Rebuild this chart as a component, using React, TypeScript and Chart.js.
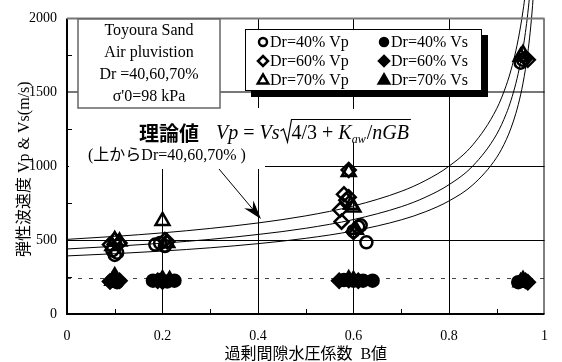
import React, { useEffect, useRef } from "react";
import { Chart, registerables } from "chart.js";

Chart.register(...registerables);

const SERIF = '"Liberation Serif", "Times New Roman", serif';
const MIXED = '"Liberation Serif", "Noto Sans CJK JP", serif';
const CJK = '"Noto Sans CJK JP", sans-serif';

// Axis ticks
const xTickValues = [0, 0.2, 0.4, 0.6, 0.8, 1];
const xTickLabels = ["0", "0.2", "0.4", "0.6", "0.8", "1"];
const yTickValues = [0, 500, 1000, 1500, 2000];
const yTickLabels = ["0", "500", "1000", "1500", "2000"];
const xMinorTicks = [0.1, 0.3, 0.5, 0.7, 0.9];
const yMinorTicks = [250, 750, 1250, 1750];

// Measured Vp (open markers) and Vs (filled markers) against B value
const dr40VpB = [0.095, 0.105, 0.1, 0.185, 0.195, 0.205, 0.6, 0.61, 0.615, 0.627, 0.95, 0.955];
const dr40Vp = [430, 415, 400, 470, 480, 460, 560, 590, 600, 485, 1700, 1720];
const dr60VpB = [0.09, 0.1, 0.11, 0.205, 0.21, 0.59, 0.58, 0.59, 0.585, 0.572, 0.575, 0.6, 0.96, 0.965];
const dr60Vp = [470, 500, 480, 500, 490, 975, 810, 790, 770, 705, 625, 555, 1730, 1720];
const dr70VpB = [0.1, 0.11, 0.095, 0.2, 0.21, 0.59, 0.595, 0.6, 0.605, 0.955, 0.95];
const dr70Vp = [500, 490, 460, 630, 480, 960, 740, 720, 570, 1760, 1740];

const dr40VsB = [0.095, 0.105, 0.1, 0.18, 0.195, 0.21, 0.225, 0.58, 0.6, 0.62, 0.64, 0.945, 0.955];
const dr40Vs = [225, 215, 230, 225, 230, 220, 225, 230, 225, 225, 225, 215, 225];
const dr60VsB = [0.09, 0.11, 0.19, 0.2, 0.57, 0.59, 0.61, 0.96, 0.965];
const dr60Vs = [220, 225, 225, 220, 225, 230, 225, 225, 215];
const dr70VsB = [0.1, 0.095, 0.2, 0.215, 0.59, 0.6, 0.955, 0.95];
const dr70Vs = [255, 225, 235, 230, 235, 230, 230, 215];

// Theoretical Vp curves (from top: Dr=40, 60, 70%)
const curveB = [0, 0.1, 0.2, 0.3, 0.4, 0.5, 0.6, 0.7, 0.75, 0.8, 0.85, 0.9, 0.92, 0.93, 0.94, 0.945, 0.95, 0.955, 0.96, 0.965, 0.97, 0.975, 0.98];
const theoryDr40 = [505, 525, 549, 579, 616, 664, 731, 830, 902, 1000, 1145, 1390, 1548, 1652, 1781, 1859, 1948, 2051, 2174, 2322, 2504, 2742, 3063];
const theoryDr60 = [440, 458, 479, 505, 538, 580, 639, 726, 789, 875, 1002, 1217, 1356, 1447, 1560, 1628, 1706, 1797, 1904, 2034, 2195, 2402, 2683];
const theoryDr70 = [393, 408, 426, 448, 476, 512, 562, 637, 691, 765, 874, 1060, 1180, 1259, 1357, 1416, 1483, 1562, 1655, 1767, 1907, 2087, 2333];

// Dashed reference level of Vs
const refB = [0, 1];
const refVs = [240, 240];

const infoLines = ["Toyoura Sand", "Air pluvistion", "Dr =40,60,70%", "σ'0=98 kPa"];
const theoryLabel = "理論値";
const theoryNote = "(上からDr=40,60,70% )";
const xTitle = "過剰間隙水圧係数  B値";
const yTitle = "弾性波速度 Vp & Vs(m/s)";

const pts = (xs: number[], ys: number[]) => xs.map((x, i) => ({ x, y: ys[i] }));

type Marker = "circle" | "rectRot" | "triangle";
const markerRadius: Record<Marker, number> = { circle: 6, rectRot: 7, triangle: 8 };

const markerSet = (label: string, xs: number[], ys: number[], style: Marker, filled: boolean) => ({
  label,
  data: pts(xs, ys),
  pointStyle: style,
  pointRadius: markerRadius[style],
  pointBorderWidth: 2.5,
  pointBorderColor: "#000",
  pointBackgroundColor: filled ? "#000" : "rgba(0,0,0,0)",
  borderColor: "#000",
  backgroundColor: filled ? "#000" : "rgba(0,0,0,0)",
  showLine: false,
  filled,
});

const curveSet = (xs: number[], ys: number[]) => ({
  data: pts(xs, ys),
  showLine: true,
  pointRadius: 0,
  borderColor: "#000",
  borderWidth: 1,
  cubicInterpolationMode: "monotone" as const,
  clip: false as const,
});

function drawMarker(ctx: CanvasRenderingContext2D, style: string, x: number, y: number, r: number, filled: boolean) {
  ctx.beginPath();
  if (style === "circle") {
    ctx.arc(x, y, r, 0, Math.PI * 2);
  } else if (style === "rectRot") {
    ctx.moveTo(x, y - r);
    ctx.lineTo(x + r, y);
    ctx.lineTo(x, y + r);
    ctx.lineTo(x - r, y);
    ctx.closePath();
  } else {
    const h = r * 1.5;
    ctx.moveTo(x, y - h * 0.62);
    ctx.lineTo(x + r * 0.87, y + h * 0.38);
    ctx.lineTo(x - r * 0.87, y + h * 0.38);
    ctx.closePath();
  }
  ctx.lineWidth = 2.5;
  ctx.strokeStyle = "#000";
  if (filled) {
    ctx.fillStyle = "#000";
    ctx.fill();
  }
  ctx.stroke();
}

const decorPlugin = {
  id: "decor",
  beforeDatasetsDraw(chart: any) {
    const { ctx } = chart;
    ctx.save();
    // white backgrounds behind the theory annotation
    ctx.fillStyle = "#fff";
    ctx.fillRect(69, 108, 196, 61);
    ctx.fillRect(208, 109, 224, 34);
    ctx.restore();
  },
  afterDraw(chart: any) {
    const { ctx, chartArea: a, scales } = chart;
    const xs = scales.x;
    const ys = scales.y;
    ctx.save();

    // frame
    ctx.strokeStyle = "#000";
    ctx.lineWidth = 2;
    ctx.beginPath();
    ctx.moveTo(a.left, a.top);
    ctx.lineTo(a.left, a.bottom);
    ctx.lineTo(a.right, a.bottom);
    ctx.stroke();
    ctx.lineWidth = 1;
    ctx.beginPath();
    ctx.moveTo(a.right - 0.5, a.bottom);
    ctx.lineTo(a.right - 0.5, a.top);
    ctx.stroke();
    ctx.strokeStyle = "#777";
    ctx.lineWidth = 2;
    ctx.beginPath();
    ctx.moveTo(a.left, a.top);
    ctx.lineTo(a.right, a.top);
    ctx.stroke();

    // minor ticks
    ctx.strokeStyle = "#000";
    ctx.lineWidth = 1;
    ctx.beginPath();
    xMinorTicks.forEach((v) => {
      const px = Math.round(xs.getPixelForValue(v)) + 0.5;
      ctx.moveTo(px, a.bottom);
      ctx.lineTo(px, a.bottom - 5);
    });
    yMinorTicks.forEach((v) => {
      const py = Math.round(ys.getPixelForValue(v)) + 0.5;
      ctx.moveTo(a.left, py);
      ctx.lineTo(a.left + 5, py);
    });
    ctx.stroke();

    // axis titles
    ctx.fillStyle = "#000";
    ctx.textAlign = "center";
    ctx.textBaseline = "middle";
    ctx.font = `16px ${MIXED}`;
    ctx.fillText(xTitle, (a.left + a.right) / 2, 355);
    ctx.save();
    ctx.translate(25, (a.top + a.bottom) / 2 + 3);
    ctx.rotate(-Math.PI / 2);
    ctx.fillText(yTitle, 0, 0);
    ctx.restore();

    // info box
    ctx.fillStyle = "#fff";
    ctx.fillRect(78, 19, 142, 89);
    ctx.strokeStyle = "#666";
    ctx.lineWidth = 1.5;
    ctx.strokeRect(78, 19, 142, 89);
    ctx.fillStyle = "#000";
    ctx.font = `16px ${SERIF}`;
    infoLines.forEach((t, i) => ctx.fillText(t, 149, 31 + i * 21.8));

    // legend with drop shadow
    ctx.fillStyle = "#000";
    ctx.fillRect(251, 35, 237, 62);
    ctx.fillStyle = "#fff";
    ctx.fillRect(245, 29, 237, 62);
    ctx.strokeStyle = "#000";
    ctx.lineWidth = 1;
    ctx.strokeRect(245.5, 29.5, 236, 61);
    const entries = chart.data.datasets.filter((d: any) => d.label);
    const rowY = [42, 61, 80];
    const colX = [263, 384];
    const legendR: Record<string, number> = { circle: 4, rectRot: 5, triangle: 6 };
    ctx.textAlign = "left";
    ctx.font = `16px ${SERIF}`;
    entries.forEach((d: any, i: number) => {
      const cx = colX[Math.floor(i / 3)];
      const cy = rowY[i % 3];
      drawMarker(ctx, d.pointStyle, cx, cy, legendR[d.pointStyle], d.filled);
      ctx.fillStyle = "#000";
      ctx.fillText(d.label, cx + 7, cy + 1);
    });

    // theory label and formula
    ctx.font = `bold 20px ${CJK}`;
    ctx.textBaseline = "alphabetic";
    ctx.fillText(theoryLabel, 139, 141);
    let x = 216;
    const base = 139;
    const seg = (t: string, font: string, dy = 0) => {
      ctx.font = font;
      ctx.fillText(t, x, base + dy);
      x += ctx.measureText(t).width;
    };
    const it = `italic 20px ${SERIF}`;
    const rm = `20px ${SERIF}`;
    seg("Vp", it);
    seg(" = ", rm);
    seg("Vs", it);
    const rx = x + 1;
    x += 12;
    seg("4/3 + ", rm);
    seg("K", it);
    seg("aw", `italic 12px ${SERIF}`, 4);
    x += 1;
    seg("/", rm);
    seg("nGB", it);
    ctx.strokeStyle = "#000";
    ctx.lineWidth = 1.2;
    ctx.beginPath();
    ctx.moveTo(rx, 131);
    ctx.lineTo(rx + 3, 129);
    ctx.lineTo(rx + 7, 142);
    ctx.lineTo(rx + 11, 119.5);
    ctx.lineTo(x + 2, 119.5);
    ctx.stroke();

    ctx.font = `16px ${MIXED}`;
    ctx.textBaseline = "middle";
    ctx.fillText(theoryNote, 88, 156);

    // arrow to the theory curves
    const sx = 219, sy = 169, tx = 261, ty = 219;
    const len = Math.hypot(tx - sx, ty - sy);
    const ux = (tx - sx) / len, uy = (ty - sy) / len;
    const nx = -uy, ny = ux;
    ctx.lineWidth = 1;
    ctx.beginPath();
    ctx.moveTo(sx, sy);
    ctx.lineTo(tx - ux * 10, ty - uy * 10);
    ctx.stroke();
    ctx.fillStyle = "#000";
    ctx.beginPath();
    ctx.moveTo(tx, ty);
    ctx.lineTo(tx - ux * 19 + nx * 6, ty - uy * 19 + ny * 6);
    ctx.lineTo(tx - ux * 13, ty - uy * 13);
    ctx.lineTo(tx - ux * 19 - nx * 6, ty - uy * 19 - ny * 6);
    ctx.closePath();
    ctx.fill();

    ctx.restore();
  },
};

export default function App() {
  const canvasRef = useRef<HTMLCanvasElement | null>(null);

  useEffect(() => {
    const canvas = canvasRef.current;
    if (!canvas) return;
    const chart = new Chart(canvas, {
      type: "scatter",
      data: {
        datasets: [
          markerSet("Dr=40% Vp", dr40VpB, dr40Vp, "circle", false),
          markerSet("Dr=60% Vp", dr60VpB, dr60Vp, "rectRot", false),
          markerSet("Dr=70% Vp", dr70VpB, dr70Vp, "triangle", false),
          markerSet("Dr=40% Vs", dr40VsB, dr40Vs, "circle", true),
          markerSet("Dr=60% Vs", dr60VsB, dr60Vs, "rectRot", true),
          markerSet("Dr=70% Vs", dr70VsB, dr70Vs, "triangle", true),
          curveSet(curveB, theoryDr40),
          curveSet(curveB, theoryDr60),
          curveSet(curveB, theoryDr70),
          {
            data: pts(refB, refVs),
            showLine: true,
            pointRadius: 0,
            borderColor: "#444",
            borderWidth: 1,
            borderDash: [4, 7],
          },
        ] as any,
      },
      options: {
        animation: false,
        responsive: false,
        events: [],
        layout: { padding: { top: 14, right: 9, left: 0, bottom: 0 } },
        plugins: { legend: { display: false }, tooltip: { enabled: false } },
        scales: {
          x: {
            type: "linear",
            min: 0,
            max: 1,
            afterFit: (s: any) => {
              s.height = 48;
            },
            afterBuildTicks: (s: any) => {
              s.ticks = xTickValues.map((value) => ({ value }));
            },
            ticks: {
              padding: 14,
              color: "#000",
              font: { family: SERIF, size: 14 },
              maxRotation: 0,
              callback: (v: any) => xTickLabels[xTickValues.indexOf(Number(v))] ?? "",
            },
            grid: {
              drawTicks: false,
              color: (c: any) => (c.tick && (c.tick.value === 0 || c.tick.value === 1) ? "rgba(0,0,0,0)" : "#000"),
              lineWidth: 1,
            },
            border: { display: false },
          },
          y: {
            type: "linear",
            min: 0,
            max: 2000,
            afterFit: (s: any) => {
              s.width = 67;
            },
            afterBuildTicks: (s: any) => {
              s.ticks = yTickValues.map((value) => ({ value }));
            },
            ticks: {
              padding: 10,
              color: "#000",
              font: { family: SERIF, size: 14 },
              callback: (v: any) => yTickLabels[yTickValues.indexOf(Number(v))] ?? "",
            },
            grid: {
              drawTicks: false,
              color: (c: any) => {
                const v = c.tick && c.tick.value;
                if (v === 0 || v === 2000) return "rgba(0,0,0,0)";
                return v === 1500 ? "#777" : "#000";
              },
              lineWidth: (c: any) => (c.tick && c.tick.value === 1500 ? 2 : 1),
            },
            border: { display: false },
          },
        },
      },
      plugins: [decorPlugin],
    });
    return () => chart.destroy();
  }, []);

  return (
    <div style={{ position: "absolute", left: 0, top: 0, width: 562, height: 362, background: "#fff" }}>
      <canvas ref={canvasRef} width={562} height={362} style={{ display: "block" }} />
    </div>
  );
}
